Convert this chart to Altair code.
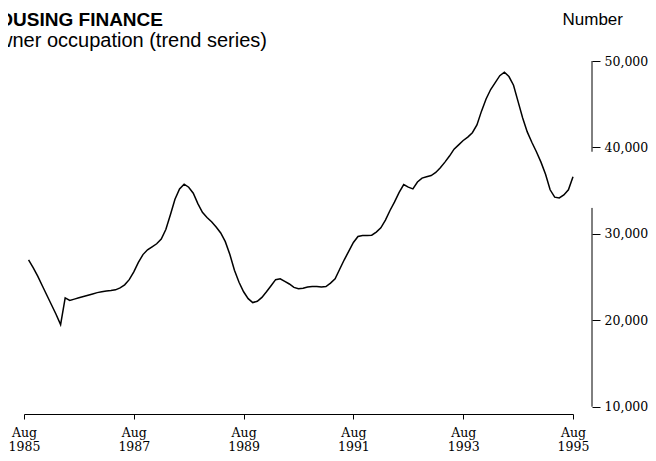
import altair as alt
import pandas as pd

TITLE = "HOUSING FINANCE"
SUBTITLE = "Owner occupation (trend series)"
UNIT = "Number"

# Monthly trend series, Sep 1985 .. Aug 1995
months = pd.period_range("1985-09", "1995-08", freq="M")
values = [
    27000, 26100, 25100, 24000, 22900, 21800, 20700, 19500,          # Sep85-Apr86
    22600, 22300, 22450, 22600, 22750, 22900, 23050, 23200,          # May86-Dec86
    23300, 23380, 23440, 23520, 23750, 24100, 24700, 25600,          # Jan87-Aug87
    26700, 27600, 28150, 28500, 28850, 29400, 30500, 32200,          # Sep87-Apr88
    34000, 35200, 35750, 35400, 34700, 33500, 32500, 31900,          # May88-Dec88
    31400, 30800, 30100, 29100, 27600, 25800, 24400, 23300,          # Jan89-Aug89
    22500, 22050, 22200, 22650, 23300, 24000, 24700, 24800,          # Sep89-Apr90
    24500, 24200, 23800, 23650, 23700, 23850, 23900, 23900,          # May90-Dec90
    23850, 23900, 24300, 24800, 25900, 27000, 28000, 29000,          # Jan91-Aug91
    29700, 29800, 29800, 29850, 30200, 30700, 31600, 32700,          # Sep91-Apr92
    33700, 34800, 35700, 35400, 35200, 36000, 36450, 36600,          # May92-Dec92
    36750, 37100, 37650, 38300, 39000, 39800, 40300, 40800,          # Jan93-Aug93
    41200, 41700, 42600, 44200, 45600, 46700, 47500, 48300,          # Sep93-Apr94
    48700, 48200, 47200, 45300, 43400, 41800, 40600, 39500,          # May94-Dec94
    38300, 36900, 35100, 34250, 34150, 34500, 35100, 36600,          # Jan95-Aug95
]
tick_years = [1985, 1987, 1989, 1991, 1993, 1995]
tick_month = 8
y_ticks = [10000, 20000, 30000, 40000, 50000]
axis_segments_lo = [10000, 39500]
axis_segments_hi = [33000, 50000]

df = pd.DataFrame({
    "t": [p.year + (p.month - 1) / 12 for p in months],
    "v": values,
})
x_ticks = [y + (tick_month - 1) / 12 for y in tick_years]
x_domain = [x_ticks[0], x_ticks[-1]]
y_domain = [9156, 50000]

SERIF = "DejaVu Serif"
SANS = "Liberation Sans"

xscale = alt.Scale(domain=x_domain, nice=False, zero=False)
yscale = alt.Scale(domain=y_domain, nice=False, zero=False)

yaxis = alt.Axis(
    orient="right", offset=19, values=y_ticks, format=",.0f", title=None,
    grid=False, domain=False, ticks=True, tickSize=8, tickColor="black",
    tickWidth=1, labelFont=SERIF, labelFontSize=12.5, labelColor="black",
    labelPadding=4, labelFlush=False)

line = alt.Chart(df).mark_line(color="black", strokeWidth=1.5).encode(
    x=alt.X("t:Q", scale=xscale, axis=alt.Axis(
        values=x_ticks, title=None, grid=False, domain=True, domainColor="black",
        domainWidth=1, ticks=True, tickSize=5, tickColor="black",
        labelExpr="['Aug', format(round(datum.value - 0.5833), 'd')]",
        labelFont=SERIF, labelFontSize=12.5, labelColor="black",
        labelBaseline="alphabetic", labelLineHeight=14, labelPadding=17,
        labelFlush=False, labelOverlap=False)),
    y=alt.Y("v:Q", scale=yscale, axis=yaxis),
)

seg_df = pd.DataFrame({"v": axis_segments_lo, "hi": axis_segments_hi})
yaxis_line = alt.Chart(seg_df).mark_rule(color="black", strokeWidth=1).encode(
    y=alt.Y("v:Q", scale=yscale, axis=yaxis),
    y2="hi:Q",
    x=alt.value(568),
)

title = alt.Chart(pd.DataFrame({"s": [TITLE]})).mark_text(
    font=SANS, fontSize=19, fontWeight="bold", align="right",
    baseline="alphabetic", color="black"
).encode(text="s:N", x=alt.value(139), y=alt.value(-35))

subtitle = alt.Chart(pd.DataFrame({"s": [SUBTITLE]})).mark_text(
    font=SANS, fontSize=20, align="right", baseline="alphabetic", color="black"
).encode(text="s:N", x=alt.value(243), y=alt.value(-14))

unit = alt.Chart(pd.DataFrame({"s": [UNIT]})).mark_text(
    font=SANS, fontSize=17, align="left", baseline="alphabetic", color="black"
).encode(text="s:N", x=alt.value(538.5), y=alt.value(-36))

chart = alt.layer(line, yaxis_line, title, subtitle, unit).properties(
    width=549, height=353,
    padding={"left": 16, "top": 53, "right": 75, "bottom": 39},
    autosize=alt.AutoSizeParams(type="none"),
    background="white",
).configure_view(stroke=None)

chart.save("out.html", embed_options={"renderer": "svg", "actions": False})
